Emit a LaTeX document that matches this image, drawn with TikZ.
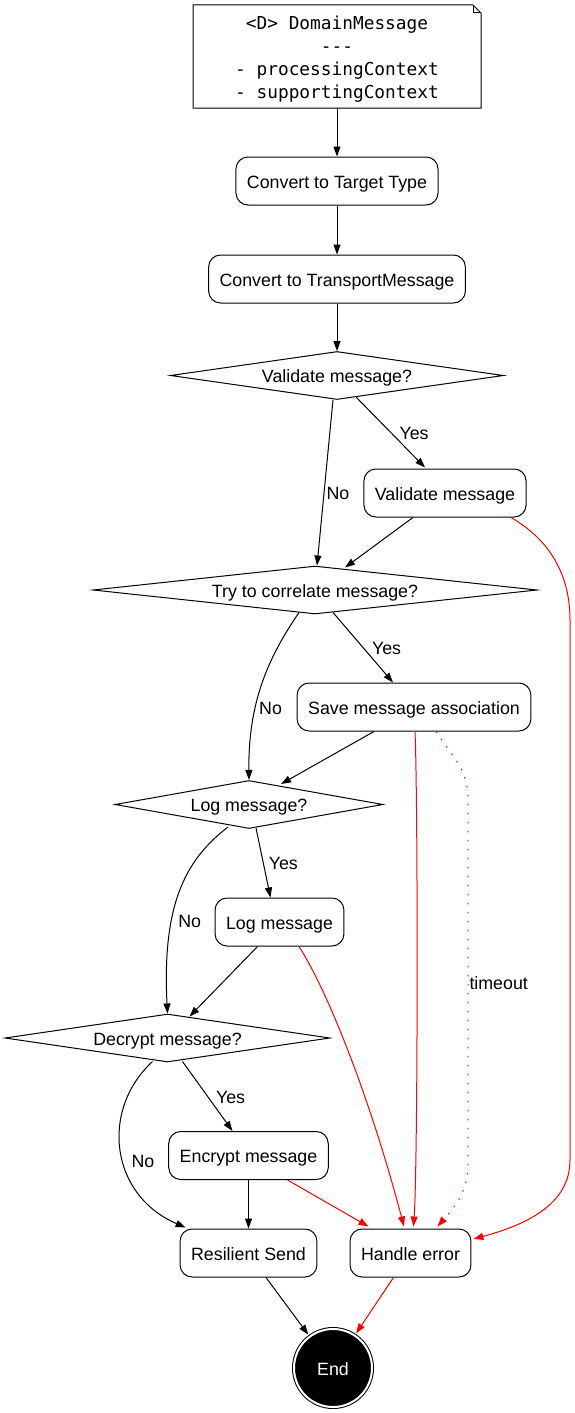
\documentclass[tikz,border=0pt]{standalone}
\usepackage{fontspec}
\setmainfont{Liberation Sans}
\newfontfamily\codefont{DejaVu Sans Mono}
\usetikzlibrary{shapes.geometric,arrows.meta,calc}

\begin{document}
\begin{tikzpicture}[x=1pt, y=-1pt,
    font=\fontsize{17.8pt}{23pt}\selectfont,
    >={Triangle[length=10pt,width=7pt]},
    txt/.style={text height=15.7pt, text depth=1.3pt},
    action/.style={txt, draw, line width=1pt, rounded corners=12pt, minimum height=48pt, inner xsep=11pt},
    decision/.style={txt, diamond, draw, line width=1pt, aspect=8, inner sep=0pt, minimum height=48pt},
    flow/.style={->, line width=1pt},
    fail/.style={->, line width=1pt, red},
    lbl/.style={txt, inner sep=1pt}]
    \path[use as bounding box] (0,0) rectangle (575,1413);

    % Input note
    \node[align=center, inner sep=0pt, font=\codefont\fontsize{17.8pt}{23pt}\selectfont] (note) at (337,59)
        {<D> DomainMessage\\-{}-{}-\\- processingContext\\- supportingContext};
    \draw[line width=1pt] ($(note.center)+(-144,-54)$) -- ($(note.center)+(136,-54)$) -- ($(note.center)+(144,-46)$)
        -- ($(note.center)+(144,49)$) -- ($(note.center)+(-144,49)$) -- cycle;
    \draw[line width=1pt] ($(note.center)+(136,-54)$) -- ($(note.center)+(136,-46)$) -- ($(note.center)+(144,-46)$);

    % Steps
    \node[action] (totarget) at (337,181) {Convert to Target Type};
    \node[action] (totransport) at (337,279) {Convert to TransportMessage};
    \node[decision, minimum width=333pt] (askvalidate) at (337,375.5) {Validate message?};
    \node[action] (validate) at (445,493) {Validate message};
    \node[decision, minimum width=444pt] (askcorrelate) at (315,590) {Try to correlate message?};
    \node[action] (saveassoc) at (414,707) {Save message association};
    \node[decision, minimum width=268pt] (asklog) at (249,804.5) {Log message?};
    \node[action] (logmsg) at (279.5,922) {Log message};
    \node[decision, minimum width=325pt] (askdecrypt) at (167.5,1038) {Decrypt message?};
    \node[action] (encrypt) at (248.5,1155.5) {Encrypt message};
    \node[action] (send) at (248.5,1253) {Resilient Send};
    \node[action] (handleerr) at (410.5,1253) {Handle error};
    \node[txt, circle, fill=black, draw=black, line width=1pt, double=white, double distance=2pt,
          minimum size=78pt, outer sep=2.5pt, text=white] (endnode) at (333,1368) {End};

    % Main flow
    \draw[flow] ($(note.center)+(0,49)$) -- (totarget);
    \draw[flow] (totarget) -- (totransport);
    \draw[flow] (totransport) -- (askvalidate);
    \draw[flow] ($(askvalidate.south)+(-4,0)$) -- node[lbl, pos=0.56, right=1pt] {No} ($(askcorrelate.north)+(2,0)$);
    \draw[flow] ($(askvalidate.south)+(19,-3)$) -- node[lbl, pos=0.5, right=7.5pt] {Yes} ($(validate.north)+(-20,-1)$);
    \draw[flow] ($(validate.south)+(-32,0)$) -- ($(askcorrelate.north)+(30,2)$);
    \draw[flow] ($(askcorrelate.south)+(-16,-2)$) .. controls (270,655) and (248,700) .. node[lbl, pos=0.65, right=2pt] {No} (asklog.north);
    \draw[flow] ($(askcorrelate.south)+(18,-2)$) -- node[lbl, pos=0.5, right=7.5pt] {Yes} ($(saveassoc.north)+(-21,0)$);
    \draw[flow] ($(saveassoc.south)+(-40,0)$) -- ($(asklog.north)+(32,4)$);
    \draw[flow] ($(asklog.south)+(7,-1)$) -- node[lbl, pos=0.5, right=4pt] {Yes} ($(logmsg.north)+(-9,0)$);
    \draw[flow] ($(asklog.south)+(-21,-2)$) .. controls (185,860) and (162,905) .. node[lbl, pos=0.65, right=5pt] {No} (askdecrypt.north);
    \draw[flow] ($(logmsg.south)+(-22,0)$) -- ($(askdecrypt.north)+(22,3)$);
    \draw[flow] ($(askdecrypt.south)+(-15,-1)$) .. controls (100,1110) and (110,1195) .. node[lbl, pos=0.55, right=7pt] {No} ($(send.north west)+(6,-1)$);
    \draw[flow] ($(askdecrypt.south)+(15,-1)$) -- node[lbl, pos=0.5, right=7pt] {Yes} ($(encrypt.north)+(-16,0)$);
    \draw[flow] (encrypt) -- (send);
    \draw[flow] ($(send.south)+(17.5,0)$) -- (endnode);

    % Error handling
    \draw[fail] ($(validate.south)+(66,0)$) .. controls (550,540) and (570,575) .. (570,620)
        -- (570,1160) .. controls (570,1205) and (525,1225) .. ($(handleerr.east)+(2,-14)$);
    \draw[fail] ($(saveassoc.south)+(1,0)$) .. controls (418,800) and (418,1160) .. ($(handleerr.north)+(3,-2)$);
    \draw[fail, dash pattern=on 1.5pt off 7.5pt] ($(saveassoc.south)+(22,0)$) .. controls (455,760) and (468,770) .. (468,800)
        -- node[lbl, pos=0.5, right=0pt, text=black] {timeout} (468,1165)
        .. controls (468,1195) and (450,1212) .. ($(handleerr.north)+(27,-2)$);
    \draw[fail] ($(logmsg.south)+(19.5,0)$) .. controls (330,995) and (372,1105) .. ($(handleerr.north)+(-6.5,-2)$);
    \draw[fail] ($(encrypt.south)+(39,0)$) -- ($(handleerr.north)+(-42,-2)$);
    \draw[fail] ($(handleerr.south)+(-17,0)$) -- (endnode);
\end{tikzpicture}
\end{document}
